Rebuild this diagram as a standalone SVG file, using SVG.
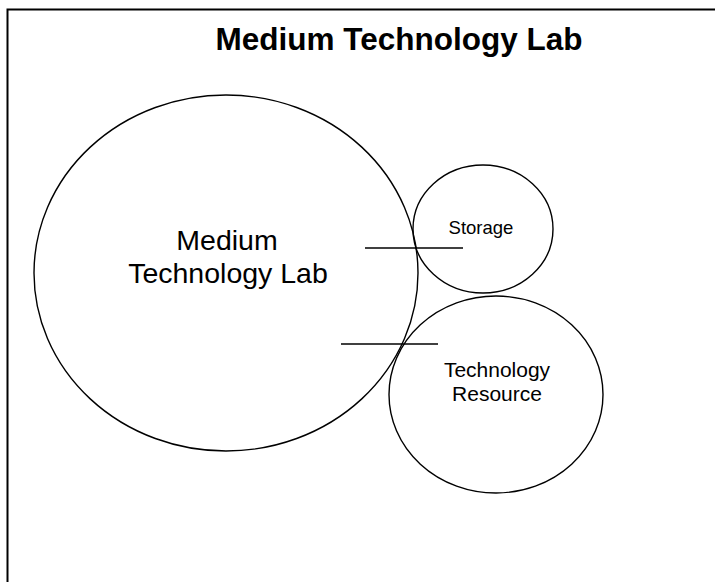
<svg xmlns="http://www.w3.org/2000/svg" width="715" height="582" viewBox="0 0 715 582">
<style>
.shape{fill:none;stroke:#000;stroke-width:1.4}
.conn{stroke:#000;stroke-width:1.4}
.lbl{font-family:"Liberation Sans",Arial,sans-serif;fill:#000;text-anchor:middle}
.title{font-family:"Liberation Sans",Arial,sans-serif;font-weight:bold;fill:#000;text-anchor:middle}
</style>
<rect width="715" height="582" fill="#fff"/>
<g id="frame">
<polyline points="7.5,582 7.5,9.5 715,9.5" fill="none" stroke="#000" stroke-width="2"/>
</g>
<g id="title">
<text class="title" x="399" y="50" font-size="31.5">Medium Technology Lab</text>
</g>
<g id="node-medium-lab">
<ellipse class="shape" cx="226" cy="273" rx="192" ry="178"/>
<text class="lbl" x="227" y="250" font-size="28.5">Medium</text>
<text class="lbl" x="228" y="283" font-size="28.5">Technology Lab</text>
</g>
<g id="node-storage">
<ellipse class="shape" cx="483" cy="229" rx="70" ry="64"/>
<text class="lbl" x="481" y="234" font-size="18.5">Storage</text>
</g>
<g id="node-tech-resource">
<ellipse class="shape" cx="496" cy="394.5" rx="107" ry="98.5"/>
<text class="lbl" x="497" y="377" font-size="21">Technology</text>
<text class="lbl" x="497" y="401" font-size="21">Resource</text>
</g>
<g id="connectors">
<line class="conn" x1="365" y1="248" x2="463" y2="248"/>
<line class="conn" x1="341" y1="344" x2="438" y2="344"/>
</g>
</svg>
